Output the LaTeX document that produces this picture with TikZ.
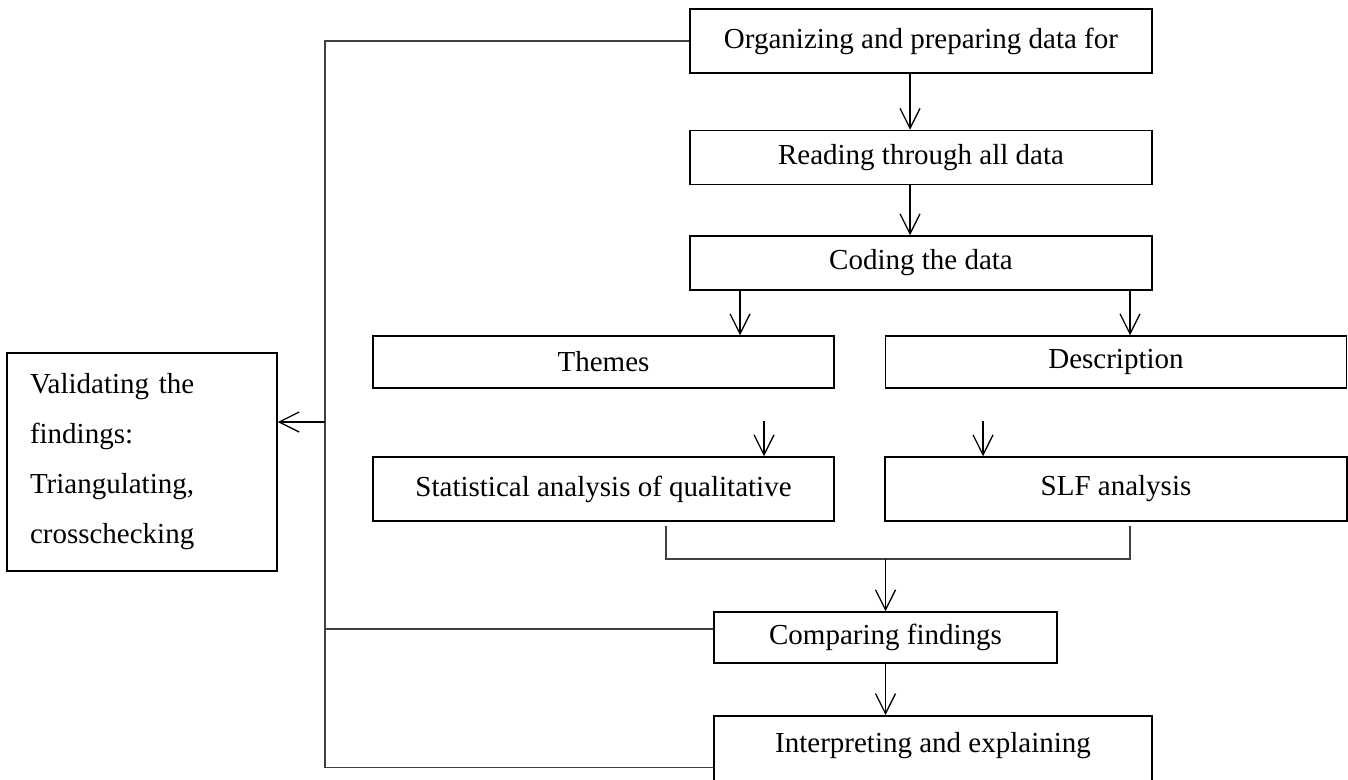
\documentclass[tikz,border=0pt]{standalone}
\usepackage{fontspec}
\setmainfont{Liberation Serif}
\usetikzlibrary{arrows.meta,positioning}

\begin{document}
\begin{tikzpicture}[x=1pt,y=-1pt,
     stage/.style={rectangle,draw,line width=1.5pt,inner sep=0pt,
       minimum width=461pt,minimum height=54pt,font=\fontsize{29}{34}\selectfont},
     flow/.style={draw,line width=1.3pt,-{Straight Barb[length=20pt,width=20pt]}},
     link/.style={draw,line width=1.3pt,black!75}]

    \useasboundingbox (0,0) rectangle (1348,779);
    \clip (0,0) rectangle (1348,779);

    \node[stage,minimum width=462pt,minimum height=64pt] (org) at (921,41) {Organizing and preparing data for};

    \node[stage,minimum width=462pt] (read) [below=56pt of org] {Reading through all data};

    \node[stage,minimum width=462pt] (code) [below=50pt of read] {Coding the data};

    \node[stage,minimum height=52pt] (themes) at (603.5,362) {Themes};
    \node[stage,minimum height=52pt] (descr) at (1116,362) {Description};

    \node[stage,minimum height=64pt] (stat) at (603.5,489) {Statistical analysis of qualitative};
    \node[stage,minimum width=462pt,minimum height=64pt] (slf) at (1116,489) {SLF analysis};

    \node[stage,minimum width=343pt,minimum height=51pt] (comp) at (885.5,637.5) {Comparing findings};

    \node[stage,minimum width=438pt,minimum height=0pt,text height=37pt,text depth=67pt,
      anchor=north] (interp) at (933,715) {Interpreting and explaining};

    \node[stage,minimum width=270pt,minimum height=218pt,text width=224pt,align=left,
      font=\fontsize{29}{50}\selectfont] (valid) at (142,462)
      {Validating the\\findings:\\Triangulating,\\crosschecking};

    % main flow
    \draw[flow] ([xshift=-11pt]org.south) -- ([xshift=-11pt]read.north);
    \draw[flow] ([xshift=-11pt]read.south) -- ([xshift=-11pt]code.north);

    \coordinate (ct) at ([xshift=-181pt]code.south);
    \coordinate (cd) at ([xshift=209pt]code.south);
    \draw[flow] (ct) -- (ct |- themes.north);
    \draw[flow] (cd) -- (cd |- descr.north);

    \draw[flow] ([xshift=160.5pt,yshift=35pt]stat.north) -- ([xshift=160.5pt]stat.north);
    \draw[flow] ([xshift=-133pt,yshift=35pt]slf.north) -- ([xshift=-133pt]slf.north);

    % merge of the two analyses
    \coordinate (merge) at (885.5,559);
    \draw[link] ([xshift=62.5pt,yshift=-4pt]stat.south) |- (merge)
      -| ([xshift=14pt,yshift=-4pt]slf.south);
    \draw[flow] (merge) -- (comp.north);
    \draw[flow] (comp.south) -- (comp.south |- interp.north);

    % feedback to validation
    \coordinate (spine) at (325,0);
    \coordinate (cjoin) at ([yshift=8.5pt]comp.west);
    \coordinate (vjoin) at ([yshift=40pt]valid.east);
    \draw[link] (org.west) -- (org.west -| spine) -- (interp.west -| spine) -- (interp.west);
    \draw[link] (cjoin) -- (cjoin -| spine);
    \draw[flow] (vjoin -| spine) -- (vjoin);

\end{tikzpicture}
\end{document}
